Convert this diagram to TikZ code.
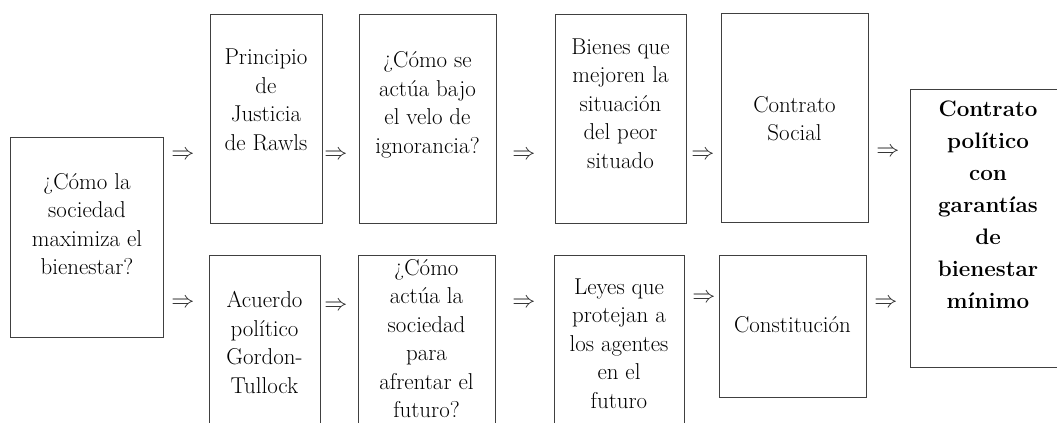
\documentclass[tikz,border=0pt]{standalone}
\begin{document}
\begin{tikzpicture}[x=0.75pt,y=-0.75pt,
  bx/.style 2 args={draw=black!75, line width=0.7pt, minimum width=#1*0.75pt, minimum height=#2*0.75pt, inner sep=0pt},
  txt/.style={align=center, inner sep=0pt, text=black, font=\fontsize{17.2}{21.4}\selectfont},
  btxt/.style={align=center, inner sep=0pt, text=black, font=\fontsize{16.8}{24}\selectfont\bfseries},
  arr/.style={inner sep=0pt, text=black!85, font=\fontsize{16.5}{20}\selectfont}]
\useasboundingbox (0,0) rectangle (1057,423);
\clip (0,0) rectangle (1057,423);
% boxes
\node[bx={153}{200}] (b1) at (86.5,237) {};
\node[bx={112}{209}] (t2) at (266,118.5) {};
\node[bx={111}{185}] (l2) at (264.5,347.5) {};
\node[bx={137}{209}] (t3) at (427.5,118.5) {};
\node[bx={137}{185}] (l3) at (426.5,347.5) {};
\node[bx={131}{209}] (t4) at (620.5,118.5) {};
\node[bx={130}{185}] (l4) at (619,347.5) {};
\node[bx={147}{209}] (t5) at (794.5,117.5) {};
\node[bx={147}{142}] (l5) at (792.5,326) {};
\node[bx={160}{278}] (b6) at (990,228) {};
% texts
\node[txt] (x1) at (87,224) {\textquestiondown C\'omo la\\sociedad\\maximiza el\\bienestar?};
\node[txt] (xt2) at (266,100) {Principio\\de\\Justicia\\de Rawls};
\node[txt] (xt3) at (427.5,105) {\textquestiondown C\'omo se\\act\'ua bajo\\el velo de\\ignorancia?};
\node[txt] (xt4) at (620.5,103.5) {Bienes que\\mejoren la\\situaci\'on\\del peor\\situado};
\node[txt] (xt5) at (794.5,118.5) {Contrato\\Social};
\node[txt] (xl2) at (264.5,342.5) {Acuerdo\\pol\'{\i}tico\\Gordon-\\Tullock};
\node[txt] (xl3) at (426.5,338.5) {\textquestiondown C\'omo\\act\'ua la\\sociedad\\para\\afrentar el\\futuro?};
\node[txt] (xl4) at (619,343.5) {Leyes que\\protejan a\\los agentes\\en el\\futuro};
\node[txt] (xl5) at (792.5,325) {Constituci\'on};
\node[btxt] (x6) at (988,205) {Contrato\\pol\'{\i}tico\\con\\garant\'{\i}as\\de\\bienestar\\m\'{\i}nimo};
% arrows
\node[arr] (a1) at (183,155) {$\Rightarrow$};
\node[arr] (a2) at (183,303) {$\Rightarrow$};
\node[arr] (a3) at (336,155) {$\Rightarrow$};
\node[arr] (a4) at (336,306) {$\Rightarrow$};
\node[arr] (a5) at (524,155) {$\Rightarrow$};
\node[arr] (a6) at (524,303) {$\Rightarrow$};
\node[arr] (a7) at (703,155) {$\Rightarrow$};
\node[arr] (a8) at (704,298) {$\Rightarrow$};
\node[arr] (a9) at (888,152) {$\Rightarrow$};
\node[arr] (a10) at (886,303) {$\Rightarrow$};
\end{tikzpicture}
\end{document}
